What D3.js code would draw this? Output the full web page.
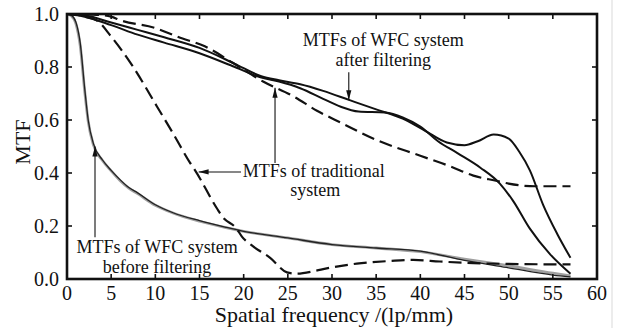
<!DOCTYPE html>
<html><head><meta charset="utf-8">
<script src="https://cdn.jsdelivr.net/npm/d3@7"></script>
<style>
body{margin:0;background:#fff}
svg{display:block}
</style>
</head><body>
<svg id="c" width="622" height="328"></svg>
<script>
// ---- data ----
const xTicks = [0,5,10,15,20,25,30,35,40,45,50,55,60];
const xTickLabels = ["0","5","10","15","20","25","30","35","40","45","50","55","60"];
const yTicks = [0,0.2,0.4,0.6,0.8,1.0];
const yTickLabels = ["0.0","0.2","0.4","0.6","0.8","1.0"];

// MTFs of WFC system before filtering (black and gray, nearly identical)
const beforeBlack = [[0,1.0],[0.5,0.995],[1.0,0.97],[1.5,0.89],[2.0,0.72],[2.4,0.6],[3,0.51],[4,0.45],[5,0.41],[6,0.375],[7,0.345],[8,0.325],[10,0.28],[12,0.25],[15,0.22],[18,0.195],[20,0.18],[25,0.155],[30,0.13],[35,0.117],[40,0.105],[45,0.07],[50,0.042],[55,0.015],[57,0.008]];
const beforeGray  = [[0,1.0],[0.5,0.993],[1.0,0.965],[1.5,0.88],[2.0,0.71],[2.4,0.595],[3,0.505],[4,0.448],[5,0.408],[6,0.372],[7,0.343],[8,0.322],[10,0.278],[12,0.249],[15,0.218],[18,0.194],[20,0.18],[25,0.155],[30,0.13],[35,0.117],[40,0.103],[45,0.075],[50,0.05],[55,0.022],[57,0.012]];

// MTFs of traditional system (dashed)
const tradSteep = [[0,1.0],[1,0.998],[2,0.99],[3.4,0.975],[5,0.915],[7.5,0.8],[10.2,0.65],[12,0.55],[13.9,0.44],[14.5,0.41],[17,0.265],[17.6,0.235],[19.2,0.19],[19.8,0.16],[21,0.125],[23,0.08],[24.9,0.025],[26,0.02],[28,0.03],[29.4,0.04],[32.8,0.058],[36.6,0.068],[39.2,0.072],[42.2,0.066],[46,0.06],[50,0.057],[57,0.055]];
const tradUpper = [[0,1.0],[3,0.998],[5,0.99],[6,0.977],[10,0.947],[12.6,0.913],[15.6,0.878],[18.8,0.815],[22.2,0.745],[25.6,0.69],[28.3,0.635],[31,0.59],[35,0.525],[40,0.465],[43.4,0.425],[46,0.39],[48.7,0.37],[50,0.36],[53,0.35],[57,0.35]];

// MTFs of WFC system after filtering (solid)
const afterA = [[0,1.0],[2,0.995],[5,0.968],[8,0.94],[11,0.912],[15,0.872],[19,0.812],[22,0.765],[24,0.75],[26.4,0.735],[29,0.71],[32,0.675],[35,0.64],[38,0.605],[40.5,0.56],[43,0.515],[45,0.505],[46.5,0.52],[48.3,0.545],[50,0.53],[51.2,0.48],[52.4,0.41],[53.9,0.28],[55.5,0.17],[57,0.08]];
const afterB = [[0,1.0],[2,0.99],[5,0.958],[8,0.922],[11,0.892],[15,0.852],[19,0.8],[22,0.76],[24,0.745],[26.4,0.72],[29,0.68],[31,0.65],[33,0.632],[36,0.628],[38,0.61],[40,0.575],[42,0.52],[44.2,0.475],[46.8,0.42],[49,0.36],[50.5,0.295],[52.4,0.19],[54.7,0.093],[57,0.02]];

// ---- font detection ----
function hasFont(name){
  const c = document.createElement("canvas").getContext("2d");
  const s = "MTFs of WFC system 0.123";
  c.font = "40px monospace"; const a = c.measureText(s).width;
  c.font = `40px "${name}", monospace`; const b = c.measureText(s).width;
  return Math.abs(a-b) > 0.5;
}
const useLib = hasFont("Liberation Serif");
const FF = useLib ? '"Liberation Serif", serif' : '"DejaVu Serif", serif';
const fsTick = useLib ? 20 : 16, fsAnn = useLib ? 18 : 15, fsTitle = useLib ? 22 : 18;

// ---- drawing ----
const H = 328;
const svg = d3.select("#c");
const x = d3.scaleLinear().domain([0,60]).range([67,597]);
const y = d3.scaleLinear().domain([0,1]).range([279,14]);

svg.append("line").attr("x1",612).attr("x2",612).attr("y1",0).attr("y2",H)
  .attr("stroke","#ececec").attr("stroke-width",2);

const defs = svg.append("defs");
defs.append("marker").attr("id","ah").attr("viewBox","0 -3 10 6")
  .attr("refX",10).attr("refY",0).attr("markerWidth",10).attr("markerHeight",6)
  .attr("markerUnits","userSpaceOnUse").attr("orient","auto")
  .append("path").attr("d","M0,-2.6L10,0L0,2.6Z").attr("fill","#111");

const line = d3.line().x(d=>x(d[0])).y(d=>y(d[1])).curve(d3.curveMonotoneX);

svg.append("path").datum(beforeGray).attr("d",line).attr("fill","none")
  .attr("stroke","#a0a0a0").attr("stroke-width",2.8);
svg.append("path").datum(beforeBlack).attr("d",line).attr("fill","none")
  .attr("stroke","#222").attr("stroke-width",1.3);
[tradSteep, tradUpper].forEach(dat=>{
  svg.append("path").datum(dat).attr("d",line).attr("fill","none")
    .attr("stroke","#111").attr("stroke-width",2.2).attr("stroke-dasharray","13,6");
});
[afterA, afterB].forEach(dat=>{
  svg.append("path").datum(dat).attr("d",line).attr("fill","none")
    .attr("stroke","#111").attr("stroke-width",2);
});

const fr = svg.append("g");
fr.append("rect").attr("x",x(0)).attr("y",y(1)).attr("width",x(60)-x(0)).attr("height",y(0)-y(1))
  .attr("fill","none").attr("stroke","#111").attr("stroke-width",2.6);

const tl = 5;
xTicks.forEach(t=>{
  if(t===0||t===60) return;
  fr.append("line").attr("x1",x(t)).attr("x2",x(t)).attr("y1",y(0)).attr("y2",y(0)-tl).attr("stroke","#111").attr("stroke-width",1.6);
  fr.append("line").attr("x1",x(t)).attr("x2",x(t)).attr("y1",y(1)).attr("y2",y(1)+tl).attr("stroke","#111").attr("stroke-width",1.6);
});
yTicks.forEach(t=>{
  if(t===0||t===1) return;
  fr.append("line").attr("x1",x(0)).attr("x2",x(0)+tl).attr("y1",y(t)).attr("y2",y(t)).attr("stroke","#111").attr("stroke-width",1.6);
  fr.append("line").attr("x1",x(60)).attr("x2",x(60)-tl).attr("y1",y(t)).attr("y2",y(t)).attr("stroke","#111").attr("stroke-width",1.6);
});

function txt(xp,yp,s,size,anchor){
  return svg.append("text").attr("x",xp).attr("y",yp).attr("text-anchor",anchor||"middle")
    .attr("font-family",FF).attr("font-size",size).attr("fill","#111").text(s);
}

xTicks.forEach((t,i)=> txt(x(t),300,xTickLabels[i],fsTick));
yTicks.forEach((t,i)=> txt(59,y(t),yTickLabels[i],fsTick,"end").attr("dy","0.35em"));

txt(334,322,"Spatial frequency /(lp/mm)",fsTitle);
txt(0,0,"MTF",fsTitle).attr("transform","translate(30,142) rotate(-90)");

function arrow(x1,y1,x2,y2){
  svg.append("line").attr("x1",x1).attr("y1",y1).attr("x2",x2).attr("y2",y2)
    .attr("stroke","#111").attr("stroke-width",1.1).attr("marker-end","url(#ah)");
}
txt(x(35.8), y(0.879), "MTFs of WFC system", fsAnn);
txt(x(35.8), y(0.879)+19.5, "after filtering", fsAnn);
arrow(x(31.9), y(0.78), x(31.9), y(0.675));

txt(x(19.9), y(0.385), "MTFs of traditional", fsAnn, "start");
txt(x(28.1), y(0.385)+19, "system", fsAnn);
arrow(x(19.7), y(0.404), x(14.9), y(0.404));
arrow(x(23.55), y(0.438), x(23.55), y(0.722));

txt(x(10.2), y(0.098), "MTFs of WFC system", fsAnn);
txt(x(10.2), y(0.098)+19.5, "before filtering", fsAnn);
arrow(x(3.17), y(0.158), x(3.17), y(0.50));
</script>
</body></html>
